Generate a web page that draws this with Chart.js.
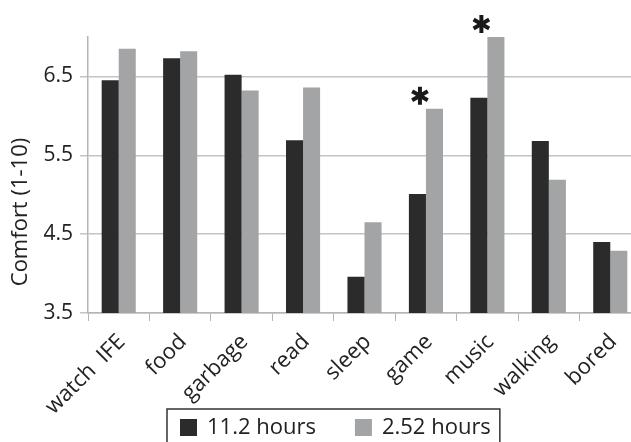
<!DOCTYPE html>
<html lang="en">
<head>
  <meta charset="UTF-8">
  <title>Comfort by activity</title>
  <script src="https://cdn.jsdelivr.net/npm/chart.js"></script>
  <style>
    body {
      margin: 0;
      overflow: hidden;
      background: #fff;
    }
    #chart {
      display: block;
    }
  </style>
</head>
<body>
  <canvas id="chart" width="646" height="442"></canvas>

  <script>
    const activities = ["watch  IFE", "food", "garbage", "read", "sleep", "game", "music", "walking", "bored"];
    const longFlight = [6.45, 6.73, 6.52, 5.69, 3.96, 5.01, 6.23, 5.68, 4.40];
    const shortFlight = [6.85, 6.82, 6.32, 6.36, 4.65, 6.09, 7.00, 5.19, 4.29];
    const seriesNames = ["11.2 hours", "2.52 hours"];
    const yTicks = [3.5, 4.5, 5.5, 6.5];
    const significant = ["game", "music"];
    const yTitle = "Comfort (1-10)";

    const FONT = "'Open Sans', sans-serif";
    const TEXT = "#222";

    // stars over the significant pairs
    const starPlugin = {
      id: "stars",
      afterDatasetsDraw(chart) {
        const x = chart.scales.x, y = chart.scales.y;
        const ctx = chart.ctx;
        ctx.save();
        ctx.strokeStyle = "#1a1a1a";
        ctx.lineWidth = 4;
        significant.forEach(name => {
          const i = activities.indexOf(name);
          const cx = x.getPixelForValue(i) - 6;
          const cy = y.getPixelForValue(shortFlight[i]) - 13;
          const r = 9;
          [90, 30, 150].forEach(a => {
            const rad = a * Math.PI / 180;
            ctx.beginPath();
            ctx.moveTo(cx - r * Math.cos(rad), cy - r * Math.sin(rad));
            ctx.lineTo(cx + r * Math.cos(rad), cy + r * Math.sin(rad));
            ctx.stroke();
          });
        });
        ctx.restore();
      }
    };

    // y title sits lower than the axis middle in the original
    const yTitlePlugin = {
      id: "yTitle",
      afterDraw(chart) {
        const ctx = chart.ctx;
        ctx.save();
        ctx.translate(21, 212);
        ctx.rotate(-Math.PI / 2);
        ctx.font = "22px " + FONT;
        ctx.fillStyle = TEXT;
        ctx.textAlign = "center";
        ctx.textBaseline = "middle";
        ctx.fillText(yTitle, 0, 0);
        ctx.restore();
      }
    };

    // boxed legend under the axis labels
    const boxLegend = {
      id: "boxLegend",
      afterDraw(chart) {
        const ctx = chart.ctx;
        ctx.save();
        ctx.font = "22px " + FONT;
        ctx.textBaseline = "middle";
        let x = 180;
        const top = 409, mid = 428;
        chart.data.datasets.forEach((ds, k) => {
          ctx.fillStyle = ds.backgroundColor;
          ctx.fillRect(x, 419, 17, 17);
          x += 27;
          ctx.fillStyle = TEXT;
          ctx.fillText(ds.label, x, mid);
          x += ctx.measureText(ds.label).width;
          if (k < chart.data.datasets.length - 1) x += 39;
        });
        ctx.strokeStyle = "#333";
        ctx.lineWidth = 1.5;
        ctx.strokeRect(167, top, x + 9 - 167, 60);
        ctx.restore();
      }
    };

    new Chart(document.getElementById("chart"), {
      type: "bar",
      data: {
        labels: activities,
        datasets: [
          { label: seriesNames[0], data: longFlight, backgroundColor: "#2b2b2b" },
          { label: seriesNames[1], data: shortFlight, backgroundColor: "#a3a4a6" }
        ]
      },
      options: {
        responsive: false,
        animation: false,
        events: [],
        layout: { padding: { top: 37, right: 5, bottom: 0, left: 0 } },
        datasets: {
          bar: { categoryPercentage: 0.555, barPercentage: 1.0 }
        },
        plugins: {
          legend: { display: false },
          tooltip: { enabled: false }
        },
        scales: {
          x: {
            grid: {
              offset: true,
              drawOnChartArea: false,
              tickLength: 8,
              color: "#b5b5b5"
            },
            border: { color: "#b5b5b5", width: 1.5 },
            ticks: {
              minRotation: 45,
              maxRotation: 45,
              color: TEXT,
              font: { family: FONT, size: 22 },
              padding: 8,
              labelOffset: 3
            },
            afterFit(scale) { scale.height = 129; }
          },
          y: {
            min: 3.5,
            max: 7.0,
            afterBuildTicks(scale) {
              scale.ticks = yTicks.map(v => ({ value: v }));
            },
            grid: { color: "#c4c4c4", lineWidth: 1.5, tickLength: 8 },
            border: { color: "#b5b5b5", width: 1.5 },
            ticks: {
              color: TEXT,
              font: { family: FONT, size: 21 },
              padding: 7,
              callback: v => v.toFixed(1)
            },
            afterFit(scale) { scale.width = 88; }
          }
        }
      },
      plugins: [starPlugin, yTitlePlugin, boxLegend]
    });
  </script>
</body>
</html>
